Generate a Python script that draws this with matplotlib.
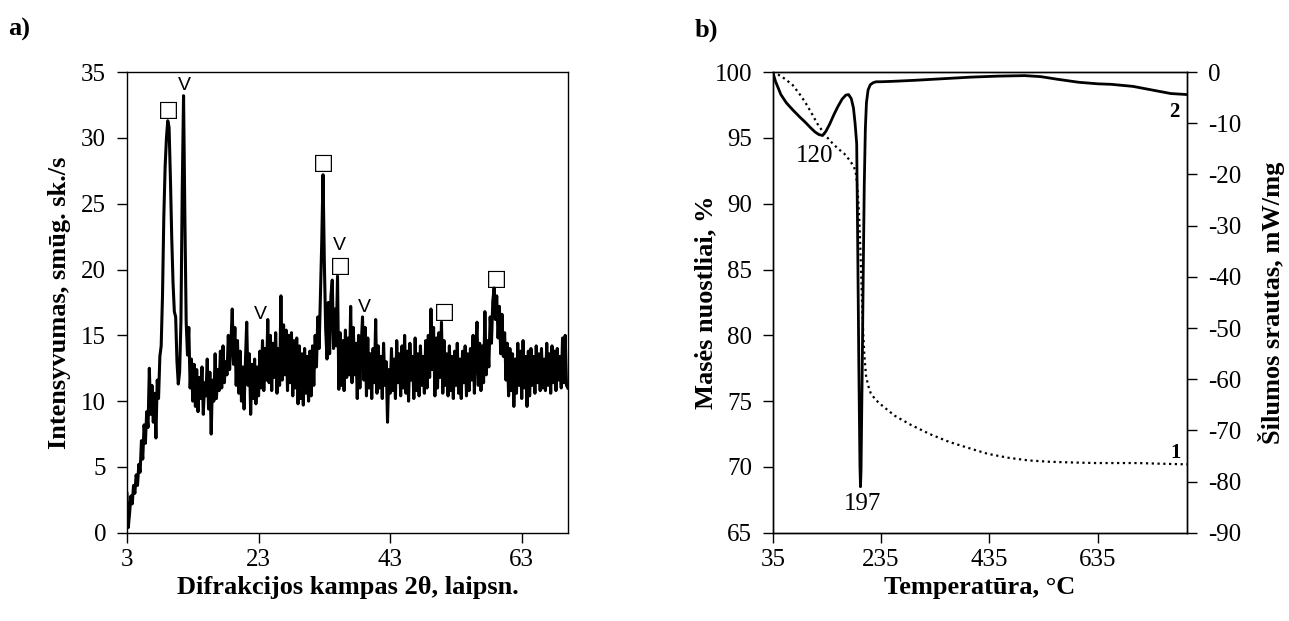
import numpy as np
import matplotlib.pyplot as plt

plt.rcParams['font.family'] = ['Liberation Serif', 'DejaVu Serif']
plt.rcParams['axes.unicode_minus'] = False

# a) XRD intensity, read every 0.2 deg from 3 to 70 deg
xrd_intensity = [
    3.0, 0.4, 1.5, 2.8, 2.2, 3.6, 3.0, 4.4, 3.6, 5.2,
    4.6, 7.0, 5.6, 8.2, 6.8, 9.2, 8.0, 12.5, 9.0, 11.2,
    8.4, 10.6, 7.2, 11.6, 10.2, 13.4, 14.2, 18.0, 24.0, 27.8,
    30.0, 31.3, 30.8, 27.0, 22.5, 19.0, 16.8, 16.4, 13.0, 11.3,
    12.2, 16.0, 26.0, 33.2, 24.0, 16.0, 13.5, 15.6, 11.0, 13.2,
    10.0, 12.8, 9.6, 12.4, 9.2, 11.8, 10.2, 12.6, 9.0, 11.4,
    10.4, 13.2, 9.4, 12.2, 7.5, 11.6, 10.0, 13.6, 10.2, 12.4,
    10.8, 13.8, 11.0, 14.2, 11.4, 13.0, 12.0, 15.0, 12.4, 14.4,
    17.0, 12.8, 15.6, 11.2, 14.6, 10.6, 13.8, 10.0, 12.6, 9.4,
    13.0, 16.0, 11.2, 13.6, 9.0, 12.8, 10.2, 13.2, 9.8, 12.6,
    10.4, 13.8, 11.0, 14.6, 10.8, 14.0, 11.6, 16.2, 11.4, 15.0,
    10.8, 14.4, 11.8, 15.2, 10.6, 14.0, 11.2, 18.0, 11.6, 15.8,
    12.0, 15.4, 10.8, 15.0, 11.4, 15.2, 10.4, 14.6, 11.0, 14.8,
    9.8, 14.2, 10.2, 13.6, 9.7, 14.0, 10.6, 13.4, 10.0, 13.8,
    10.4, 14.2, 11.2, 15.0, 12.6, 16.4, 14.0, 18.0, 22.0, 27.2,
    20.5, 15.5, 13.2, 17.5, 13.6, 18.0, 19.2, 14.0, 17.0, 14.2,
    19.5, 10.9, 15.2, 11.2, 14.6, 10.8, 15.4, 11.8, 14.8, 12.0,
    17.2, 11.4, 15.6, 12.0, 14.4, 10.2, 15.0, 11.0, 14.2, 16.4,
    11.6, 15.6, 10.4, 14.8, 11.0, 13.6, 10.2, 14.0, 11.4, 16.2,
    10.6, 14.2, 11.0, 13.4, 10.2, 14.4, 11.2, 13.0, 8.4, 12.4,
    10.6, 14.0, 10.8, 13.2, 10.2, 14.6, 11.4, 13.6, 10.4, 14.2,
    11.0, 15.0, 10.6, 13.8, 10.0, 14.4, 11.6, 13.4, 10.2, 14.8,
    10.8, 13.6, 10.4, 14.2, 11.2, 13.4, 10.6, 14.6, 11.0, 15.0,
    11.8, 17.0, 12.4, 15.6, 10.4, 14.8, 11.0, 15.2, 11.8, 16.0,
    10.6, 14.6, 11.2, 13.6, 10.4, 14.2, 10.8, 13.4, 10.2, 13.8,
    11.2, 14.4, 10.6, 13.2, 10.2, 13.8, 11.4, 14.2, 10.4, 13.6,
    10.8, 14.0, 11.6, 15.0, 10.6, 13.8, 16.0, 11.2, 14.4, 10.8,
    14.2, 11.4, 16.8, 12.0, 14.6, 12.6, 16.4, 14.4, 17.6, 18.6,
    16.2, 18.0, 14.8, 17.2, 13.6, 16.6, 13.4, 15.2, 11.6, 14.4,
    10.4, 14.0, 10.8, 13.6, 9.6, 13.2, 10.6, 14.4, 11.2, 13.8,
    10.2, 14.6, 11.0, 13.4, 9.6, 13.8, 10.4, 14.0, 11.2, 13.4,
    10.6, 14.2, 11.4, 13.6, 10.8, 14.0, 11.0, 13.2, 10.8, 14.4,
    11.2, 13.6, 10.6, 14.2, 11.4, 13.8, 10.8, 14.0, 11.6, 13.4,
    11.0, 14.8, 11.4, 15.0, 11.2, 11.0,
]
two_theta = np.linspace(3, 70, len(xrd_intensity))

# phase marks: (2theta, intensity) for squares and V marks
square_marks = [(9.3, 32.1), (32.9, 28.1), (35.5, 20.3), (51.3, 16.8), (59.1, 19.3)]
v_marks = [(11.7, 34.0), (35.3, 21.8), (23.3, 16.6), (39.1, 17.1)]

# b) thermal analysis
tg_temp = [35, 50, 60, 72, 85, 95, 105, 117, 132, 145, 155, 167, 177, 185, 189,
           192, 194, 196, 198, 200, 202, 204, 207, 211, 216, 225, 236, 260, 290,
           325, 361, 400, 432, 470, 507, 545, 582, 630, 672, 709, 750, 800]
tg_mass = [100, 99.7, 99.4, 99.0, 98.3, 97.7, 97.0, 96.1, 95.2, 94.6, 94.2, 93.8,
           93.3, 92.8, 92.2, 90.8, 89.5, 87.5, 85.0, 82.5, 80.2, 78.6, 77.0, 76.2,
           75.6, 75.1, 74.7, 73.9, 73.2, 72.5, 71.9, 71.4, 71.0, 70.7, 70.5, 70.4,
           70.35, 70.3, 70.3, 70.3, 70.25, 70.2]

dsc_temp = [35, 40, 50, 60, 72, 85, 95, 105, 113, 120, 127, 133, 140, 148, 155,
            163, 170, 175, 180, 184, 187, 190, 192, 194, 196, 197, 198, 200, 202,
            204, 206, 208, 211, 215, 220, 226, 235, 260, 300, 350, 400, 450, 500,
            530, 560, 600, 635, 660, 700, 740, 770, 800]
dsc_flow = [0, -1.8, -4.4, -6.0, -7.4, -8.8, -9.8, -10.9, -11.7, -12.2, -12.4,
            -11.6, -10.2, -8.3, -6.8, -5.3, -4.5, -4.4, -5.2, -7.0, -10.0, -14.0,
            -35.0, -58.0, -77.0, -81.0, -78.0, -60.0, -40.0, -22.0, -11.0, -6.0,
            -3.5, -2.5, -2.1, -1.9, -1.9, -1.8, -1.6, -1.3, -1.0, -0.8, -0.7,
            -0.9, -1.4, -2.0, -2.3, -2.4, -2.8, -3.6, -4.2, -4.4]

fig = plt.figure(figsize=(12.89, 6.21), dpi=100)

tick_size = 18
label_size = 19

# ---- a) XRD ----
ax1 = fig.add_axes([0.0985, 0.142, 0.342, 0.742])
ax1.plot(two_theta, xrd_intensity, color='black', lw=2.2)
for x, y in square_marks:
    ax1.text(x, y, '\u25a1', family=['DejaVu Sans'], fontsize=16,
             ha='center', va='center')
for x, y in v_marks:
    ax1.text(x, y, 'V', family=['Liberation Sans'], fontsize=14,
             ha='center', va='center')
ax1.set_xlim(3, 70)
ax1.set_ylim(0, 35)
ax1.set_xticks([3, 23, 43, 63])
ax1.set_yticks(range(0, 36, 5))
ax1.set_xlabel('Difrakcijos kampas 2θ, laipsn.', fontsize=label_size,
               fontweight='bold', labelpad=3)
ax1.set_ylabel('Intensyvumas, smūg. sk./s', fontsize=label_size,
               fontweight='bold', labelpad=7)
ax1.tick_params(direction='out', length=7, width=1, labelsize=tick_size)
ax1.tick_params(axis='y', pad=8)
ax1.tick_params(axis='x', pad=5)

# ---- b) TG / DSC ----
ax2 = fig.add_axes([0.5995, 0.142, 0.3214, 0.742])
ax2.plot(tg_temp, tg_mass, color='black', lw=1.6, linestyle=(0, (1, 1.6)))
ax2.set_xlim(35, 800)
ax2.set_ylim(65, 100)
ax2.set_xticks([35, 235, 435, 635])
ax2.set_yticks(range(65, 101, 5))
ax2.set_xlabel('Temperatūra, °C', fontsize=label_size, fontweight='bold', labelpad=3)
ax2.set_ylabel('Masės nuostliai, %', fontsize=label_size, fontweight='bold', labelpad=-2)
ax2.tick_params(direction='out', length=7, width=1, labelsize=tick_size)
ax2.tick_params(axis='y', pad=8)
ax2.tick_params(axis='x', pad=5)

ax3 = ax2.twinx()
ax3.plot(dsc_temp, dsc_flow, color='black', lw=2.0)
ax3.set_ylim(-90, 0)
ax3.set_yticks(range(-90, 1, 10))
ax3.set_ylabel('Šilumos srautas, mW/mg', fontsize=label_size, fontweight='bold',
               labelpad=12)
ax3.tick_params(direction='out', length=7, width=1, labelsize=tick_size, pad=8)

ax2.text(113, 93.6, '120', fontsize=tick_size, ha='center', va='center')
ax2.text(200, 67.2, '197', fontsize=tick_size, ha='center', va='center')
ax2.text(777, 97.0, '2', fontsize=15, fontweight='bold', ha='center', va='center')
ax2.text(778, 71.1, '1', fontsize=15, fontweight='bold', ha='center', va='center')

for ax in (ax1, ax2, ax3):
    for s in ax.spines.values():
        s.set_linewidth(1.0)

fig.text(0.006, 0.952, 'a)', fontsize=19, fontweight='bold', va='center')
fig.text(0.539, 0.952, 'b)', fontsize=19, fontweight='bold', va='center')

fig.savefig('out.png', dpi=100)
